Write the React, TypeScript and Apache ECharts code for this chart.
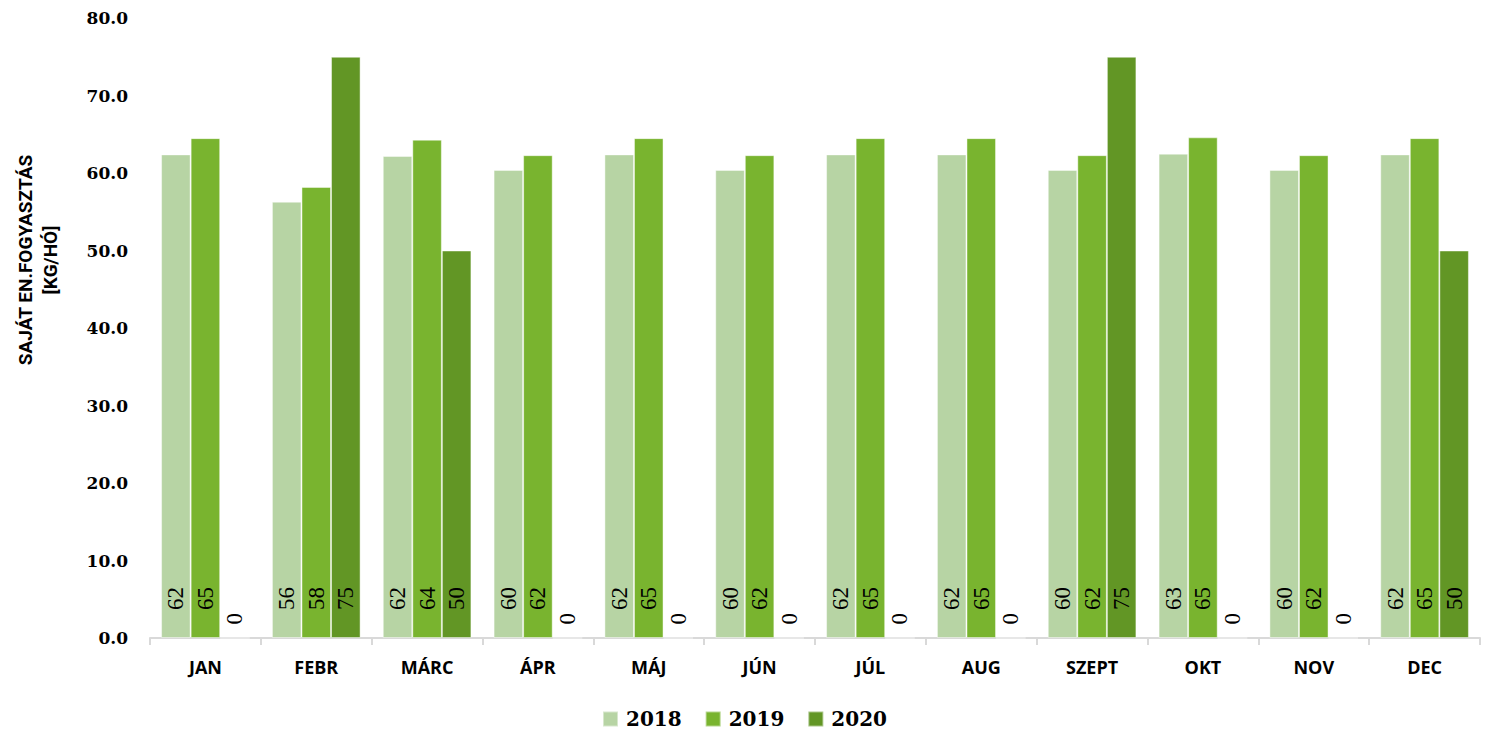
import React, { useEffect, useRef } from "react";
import * as echarts from "echarts";

const months = ["JAN", "FEBR", "MÁRC", "ÁPR", "MÁJ", "JÚN", "JÚL", "AUG", "SZEPT", "OKT", "NOV", "DEC"];
const s2018 = [62.4, 56.3, 62.2, 60.4, 62.4, 60.4, 62.4, 62.4, 60.4, 62.5, 60.4, 62.4];
const s2019 = [64.5, 58.2, 64.3, 62.3, 64.5, 62.3, 64.5, 64.5, 62.3, 64.6, 62.3, 64.5];
const s2020 = [0, 75, 50, 0, 0, 0, 0, 0, 75, 0, 0, 50];
const seriesNames = ["2018", "2019", "2020"];
const colors = ["#b7d4a4", "#79b42f", "#629625"];
const yTitle = "SAJÁT EN.FOGYASZTÁS\n[KG/HÓ]";

export default function App() {
  const ref = useRef<HTMLDivElement>(null);
  useEffect(() => {
    if (!ref.current) return;
    const chart = echarts.init(ref.current, null, { renderer: "svg" });
    const mk = (name: string, data: number[], color: string) => ({
      name,
      type: "bar",
      barGap: "0%",
      barCategoryGap: "20%",
      itemStyle: { color, borderColor: "rgba(255,255,255,0.45)", borderWidth: 1 },
      label: {
        show: true,
        position: "insideBottom",
        rotate: 90,
        align: "left",
        verticalAlign: "middle",
        distance: 28,
        color: "#000",
        fontFamily: "Liberation Serif",
        fontSize: 23,
        formatter: (p: any) => Math.round(p.value).toString(),
      },
      data: data.map((v) =>
        v === 0 ? { value: v, label: { distance: 14 } } : v
      ),
    });
    chart.setOption({
      animation: false,
      color: colors,
      grid: { left: 150, right: 9, top: 18, bottom: 98, containLabel: false },
      graphic: [
        {
          type: "text",
          x: 38,
          y: 260,
          rotation: Math.PI / 2,
          style: {
            text: yTitle,
            fontFamily: "Liberation Sans Narrow, Roboto",
            fontWeight: "bold",
            fontSize: 19,
            lineHeight: 25,
            fill: "#000",
            align: "center",
            verticalAlign: "middle",
          },
        },
      ],
      legend: {
        bottom: 2,
        left: "center",
        itemWidth: 15,
        itemHeight: 15,
        itemGap: 23,
        icon: "rect",
        textStyle: { fontFamily: "DejaVu Serif", fontWeight: "bold", fontSize: 20, color: "#000", padding: [0, 0, 0, 3] },
        data: seriesNames,
      },
      xAxis: {
        type: "category",
        data: months,
        axisLine: { lineStyle: { color: "#d9d9d9", width: 2 } },
        axisTick: { show: true, alignWithLabel: false, length: 7, lineStyle: { color: "#d9d9d9", width: 2 } },
        axisLabel: {
          margin: 20,
          fontFamily: "Open Sans",
          fontWeight: "bold",
          fontSize: 18,
          color: "#000",
        },
      },
      yAxis: {
        type: "value",
        min: 0,
        max: 80,
        interval: 10,
        splitLine: { show: false },
        axisLine: { show: false },
        axisTick: { show: false },
        axisLabel: {
          margin: 22,
          fontFamily: "DejaVu Serif",
          fontWeight: "bold",
          fontSize: 17,
          color: "#000",
          formatter: (v: number) => v.toFixed(1),
        },
      },
      series: [
        mk(seriesNames[0], s2018, colors[0]),
        mk(seriesNames[1], s2019, colors[1]),
        mk(seriesNames[2], s2020, colors[2]),
      ],
    });
    return () => chart.dispose();
  }, []);
  return (
    <div
      ref={ref}
      style={{ position: "fixed", left: 0, top: 0, width: 1489, height: 736, background: "#fff" }}
    />
  );
}
